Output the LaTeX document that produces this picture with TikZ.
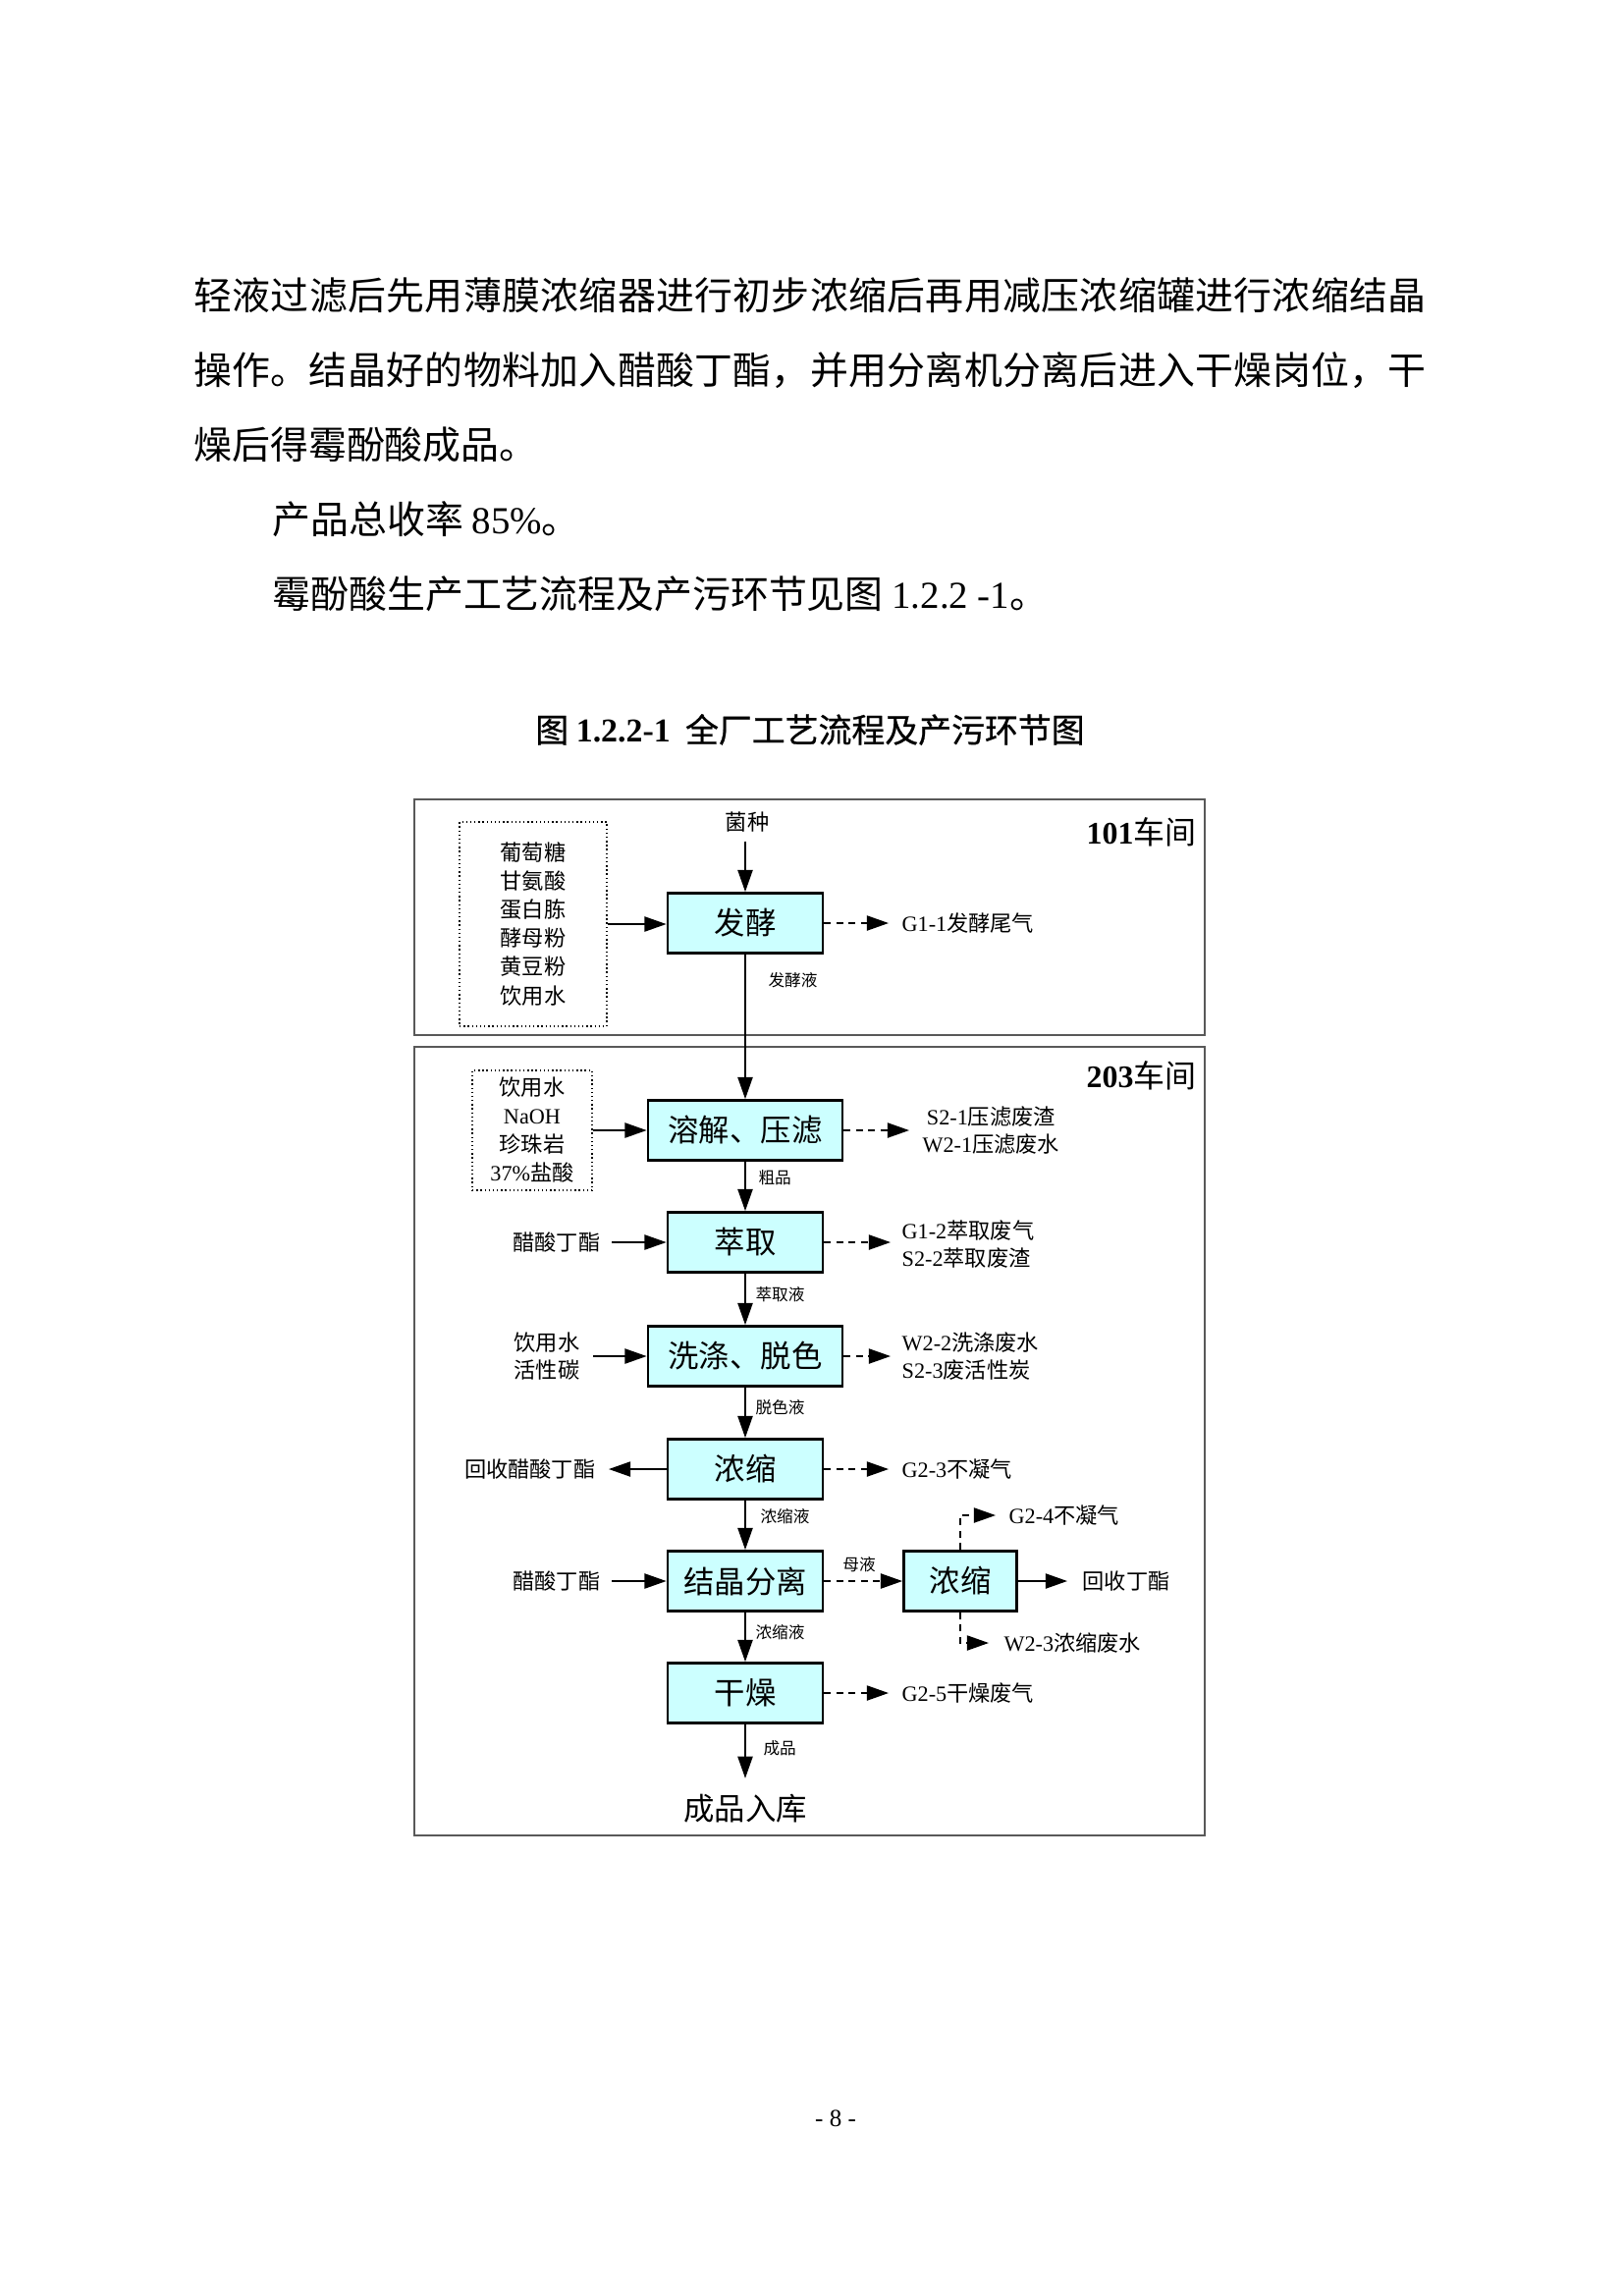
\documentclass[tikz,border=0pt]{standalone}
\usepackage{fontspec}
\setmainfont{Noto Sans CJK SC}
\newfontfamily\tnr{Liberation Serif}
\newfontfamily\cjkmed[FakeBold=0.7]{Noto Sans CJK SC}
\newcommand\Tn[1]{{\tnr #1}}
\usetikzlibrary{arrows.meta}
\definecolor{boxc}{RGB}{204,255,255}
\tikzset{
  proc/.style={draw, line width=1pt, fill=boxc, minimum height=22pt, inner sep=0pt, font=\fontsize{11.3}{13}\selectfont},
  stdw/.style={minimum width=56.9pt},
  widew/.style={minimum width=71.3pt},
  smallw/.style={minimum width=41.4pt},
  side/.style={font=\fontsize{8}{10.1}\selectfont, inner ysep=0pt, align=left},
  tinylab/.style={font=\fontsize{6}{7}\selectfont, inner sep=0pt, anchor=west},
  arr/.style={line width=0.55pt, -{Triangle[length=8pt,width=5.5pt]}},
  darr/.style={arr, dash pattern=on 2.5pt off 2pt},
  wsbox/.style={draw=black!65, line width=0.8pt},
  inbox/.style={draw, densely dotted, line width=0.5pt, align=center, font=\fontsize{8}{10.45}\selectfont, inner sep=0pt},
  bodyline/.style={anchor=west, inner sep=0pt, font=\fontsize{14}{16}\selectfont},
  justline/.style={bodyline, text width=451.8pt, align=justify}
}
\begin{document}
\begin{tikzpicture}[x=0.36pt,y=-0.36pt]
\fill[white] (0,0) rectangle (1653,2338);
\useasboundingbox (0,0) rectangle (1653,2338);

% body text
\node[justline] (t1) at (197,301) {\XeTeXlinebreaklocale "zh"\XeTeXlinebreakskip=0pt plus 10pt\tolerance=10000\noindent 轻液过滤后先用薄膜浓缩器进行初步浓缩后再用减压浓缩罐进行浓缩结晶\parfillskip=0pt\par};
\node[justline] (t2) at (197,377) {\XeTeXlinebreaklocale "zh"\XeTeXlinebreakskip=0pt plus 10pt\tolerance=10000\noindent 操作。结晶好的物料加入醋酸丁酯，并用分离机分离后进入干燥岗位，干\parfillskip=0pt\par};
\node[bodyline] (t3) at (197,453) {燥后得霉酚酸成品。};
\node[bodyline] (t4) at (277,529) {产品总收率 \Tn{85\%}。};
\node[bodyline] (t5) at (277,605) {霉酚酸生产工艺流程及产污环节见图 \Tn{1.2.2 -1}。};

% caption
\node[inner sep=0pt, font=\fontsize{12.2}{14}\selectfont\cjkmed] (cap) at (825,743) {图 \Tn{\bfseries 1.2.2-1}\ \ 全厂工艺流程及产污环节图};

% workshop frames
\draw[wsbox] (422,814) rectangle (1227,1054);
\draw[wsbox] (422,1066) rectangle (1227,1869);
\node[anchor=east, inner sep=0pt, font=\fontsize{11.5}{13}\selectfont] (w101) at (1219,847) {\Tn{\bfseries 101}车间};
\node[anchor=east, inner sep=0pt, font=\fontsize{11.5}{13}\selectfont] (w203) at (1219,1095) {\Tn{\bfseries 203}车间};

% process boxes
\node[proc, stdw] (fj) at (759,940) {发酵};
\node[proc, widew] (rj) at (759,1151) {溶解、压滤};
\node[proc, stdw] (cq) at (759,1265) {萃取};
\node[proc, widew] (xd) at (759,1381) {洗涤、脱色};
\node[proc, stdw] (ns) at (759,1496) {浓缩};
\node[proc, stdw] (jj) at (759,1610) {结晶分离};
\node[proc, stdw] (gz) at (759,1724) {干燥};
\node[proc, smallw] (sm) at (978,1610) {浓缩};
\node[inner xsep=0pt, inner ysep=5.8pt, font=\fontsize{11.3}{13}\selectfont] (rk) at (759,1842) {成品入库};

% inputs
\node[side, align=center, inner ysep=3.2pt] (jz) at (761,837) {菌种};
\node[inbox, minimum width=54pt, minimum height=74.9pt] (in1) at (543,941) {葡萄糖\\甘氨酸\\蛋白胨\\酵母粉\\黄豆粉\\饮用水};
\node[inbox, minimum width=43.9pt, minimum height=43.9pt] (in2) at (542,1151) {饮用水\\\Tn{NaOH}\\珍珠岩\\\Tn{37\%}盐酸};
\node[side, anchor=east, inner xsep=4pt] (cqin) at (623,1265) {醋酸丁酯};
\node[side, anchor=east, inner xsep=4.7pt, align=center] (xdin) at (604,1381) {饮用水\\活性碳};
\node[side, anchor=east, inner xsep=4.7pt] (hscs) at (620,1496) {回收醋酸丁酯};
\node[side, anchor=east, inner xsep=4pt] (jjin) at (623,1610) {醋酸丁酯};

% outputs
\node[side, anchor=west, inner xsep=4.7pt] (g11) at (905,940) {\Tn{G1-1}发酵尾气};
\node[side, anchor=west, inner xsep=4.7pt, align=center] (rjout) at (926,1151) {\Tn{S2-1}压滤废渣\\\Tn{W2-1}压滤废水};
\node[side, anchor=west, inner xsep=4pt] (cqout) at (907,1267) {\Tn{G1-2}萃取废气\\\Tn{S2-2}萃取废渣};
\node[side, anchor=west, inner xsep=4pt] (xdout) at (907,1381) {\Tn{W2-2}洗涤废水\\\Tn{S2-3}废活性炭};
\node[side, anchor=west, inner xsep=4.7pt] (g23) at (905,1496) {\Tn{G2-3}不凝气};
\node[side, anchor=west, inner xsep=4.7pt] (g24) at (1014,1543) {\Tn{G2-4}不凝气};
\node[side, anchor=west, inner xsep=5.4pt] (w23) at (1007,1673) {\Tn{W2-3}浓缩废水};
\node[side, anchor=west, inner xsep=5.4pt] (hd) at (1087,1610) {回收丁酯};
\node[side, anchor=west, inner xsep=4.7pt] (g25) at (905,1724) {\Tn{G2-5}干燥废气};

% small flow labels
\node[tinylab] (l1) at (782,998) {发酵液};
\node[tinylab] (l2) at (772,1199) {粗品};
\node[tinylab] (l3) at (769,1318) {萃取液};
\node[tinylab] (l4) at (769,1433) {脱色液};
\node[tinylab] (l5) at (774,1544) {浓缩液};
\node[tinylab] (l6) at (769,1662) {浓缩液};
\node[tinylab] (l7) at (777,1780) {成品};
\node[tinylab, anchor=center] (l8) at (875,1593) {母液};

% main flow
\draw[arr] (fj.north |- jz.south) -- (fj.north);
\draw[arr] (in1.east) -- (in1.east -| fj.west);
\draw[arr] (fj.south) -- (rj.north);
\draw[arr] (in2.east) -- (rj.west);
\draw[arr] (rj.south) -- (cq.north);
\draw[arr] (cqin.east) -- (cq.west);
\draw[arr] (cq.south) -- (xd.north);
\draw[arr] (xdin.east) -- (xd.west);
\draw[arr] (xd.south) -- (ns.north);
\draw[arr] (ns.west) -- (hscs.east);
\draw[arr] (ns.south) -- (jj.north);
\draw[arr] (jjin.east) -- (jj.west);
\draw[arr] (jj.south) -- (gz.north);
\draw[arr] (gz.south) -- (rk.north);
\draw[arr] (sm.east) -- (hd.west);

% emissions
\draw[darr] (fj.east) -- (g11.west);
\draw[darr] (rj.east) -- (rjout.west);
\draw[darr] (cq.east) -- (cq.east -| cqout.west);
\draw[darr] (xd.east) -- (xdout.west);
\draw[darr] (ns.east) -- (g23.west);
\draw[darr] (jj.east) -- (sm.west);
\draw[darr] (sm.north) |- (g24.west);
\draw[darr] (sm.south) |- (w23.west);
\draw[darr] (gz.east) -- (g25.west);

% page number
\node[inner sep=0pt, font=\tnr\fontsize{9}{11}\selectfont] (pg) at (851,2157) {- 8 -};
\end{tikzpicture}
\end{document}
